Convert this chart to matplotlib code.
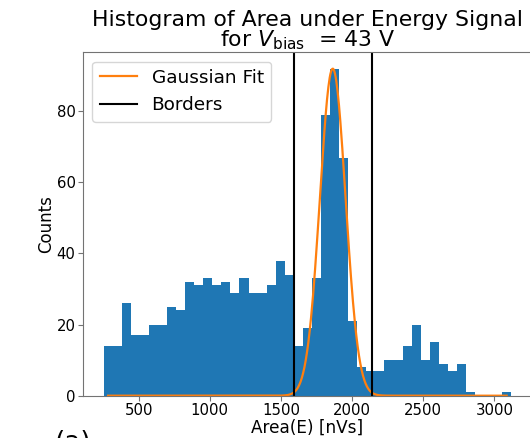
import numpy as np
import matplotlib

matplotlib.use("Agg")

import matplotlib.pyplot as plt


# histogram: 45 equal bins
bin_first_edge = 254.0
bin_last_edge = 3118.0
counts = [
    14, 14, 26, 17, 17, 20, 20, 25, 24, 32,
    31, 33, 31, 32, 29, 33, 29, 29, 31, 38,
    34, 14, 19, 33, 79, 92, 67, 21, 8, 7,
    7, 10, 10, 14, 20, 10, 15, 9, 7, 9,
    1, 0, 0, 0, 1,
]

# gaussian fit and selection borders
fit_amplitude = 92.0
fit_mean = 1864.0
fit_sigma = 90.0
borders = [1595.0, 2137.0]

x_ticks = [500, 1000, 1500, 2000, 2500, 3000]
y_ticks = [0, 20, 40, 60, 80]


edges = np.linspace(bin_first_edge, bin_last_edge, len(counts) + 1)
centers = 0.5 * (edges[:-1] + edges[1:])

x_fit = np.linspace(centers[0], centers[-1], 600)
y_fit = fit_amplitude * np.exp(-((x_fit - fit_mean) ** 2) / (2 * fit_sigma**2))


fig = plt.figure(figsize=(5.30, 4.38), dpi=100)
ax = fig.add_axes([0.157, 0.0966, 0.846, 0.784])

ax.hist(centers, bins=edges, weights=counts, color="#1f77b4")

ax.plot(x_fit, y_fit, color="#ff7f0e", linewidth=1.6, label="Gaussian Fit")

ax.axvline(borders[0], color="black", linewidth=1.5, label="Borders")
ax.axvline(borders[1], color="black", linewidth=1.5)

ax.set_xticks(x_ticks)
ax.set_yticks(y_ticks)
ax.tick_params(labelsize=10.7, color="0.45", pad=2)

for spine in ax.spines.values():
    spine.set_color("0.45")
# the reference is cropped right at the end of the axes
ax.spines["right"].set_visible(False)

ax.set_xlabel("Area(E) [nVs]", fontsize=12.2, labelpad=0)
ax.set_ylabel("Counts", fontsize=12.0, labelpad=1)

ax.set_title(
    "Histogram of Area under Energy Signal\nfor $V_\\mathrm{bias}$  = 43 V",
    fontsize=15.8,
    linespacing=0.95,
    pad=4,
)

ax.legend(loc="upper left", fontsize=13.3, borderaxespad=0.5)

# subplot tag, mostly cut off by the lower figure edge as in the reference
fig.text(0.104, -0.027, "(a)", fontsize=19, va="baseline", ha="left")

fig.savefig("out.png", dpi=100)
